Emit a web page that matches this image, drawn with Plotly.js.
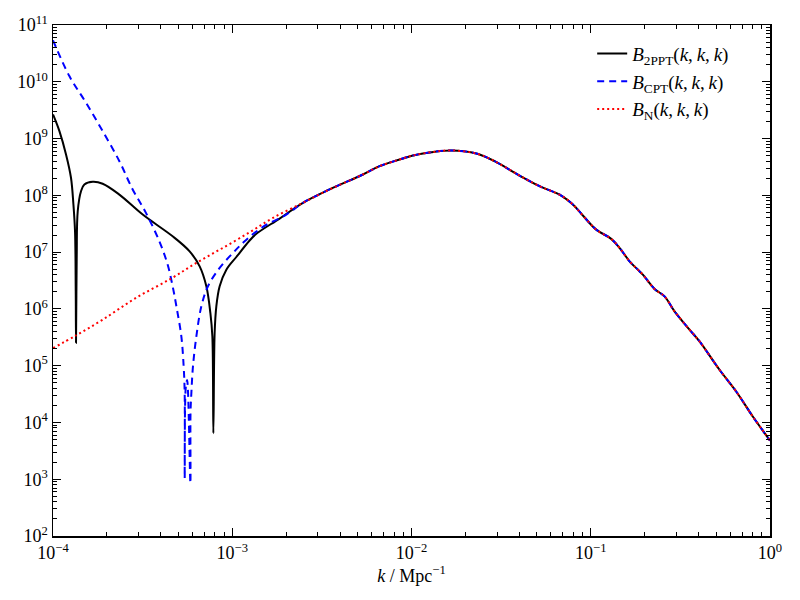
<!DOCTYPE html>
<html>
<head>
<meta charset="utf-8">
<script src="https://cdn.plot.ly/plotly-3.0.1.min.js"></script>
<style>
  body { margin: 0; background: #fff; }
  #graph1 { width: 800px; height: 600px; }
</style>
</head>
<body>
<div id="graph1"></div>
<script>
// B_2PPT, low-k part (before it merges with the others)
var kPPT = [1.0e-4, 1.086e-4, 1.182e-4, 1.26e-4, 1.30e-4, 1.327e-4, 1.339e-4, 1.344e-4, 1.356e-4, 1.374e-4,
            1.433e-4, 1.496e-4, 1.665e-4, 1.893e-4, 2.346e-4, 3.165e-4, 4.65e-4, 5.785e-4, 6.58e-4, 7.17e-4,
            7.55e-4, 7.745e-4, 7.845e-4, 7.976e-4, 8.15e-4, 8.506e-4, 9.27e-4, 1.054e-3, 1.25e-3, 1.363e-3, 1.838e-3];
var bPPT = [2.66e9, 1.35e9, 5.25e8, 2.04e8, 6.89e7, 2.33e7, 2.04e6, 2.53e5, 8.0e6, 5.25e7,
            1.18e8, 1.55e8, 1.73e8, 1.60e8, 1.03e8, 4.58e7, 1.90e7, 1.03e7, 5.62e6, 2.50e6,
            8.47e5, 3.27e5, 6.47e3, 3.76e5, 1.11e6, 2.50e6, 4.91e6, 8.2e6, 1.6e7, 2.1e7, 3.9e7];

// B_CPT, low-k part
var kCPT = [1.0e-4, 1.234e-4, 1.528e-4, 1.893e-4, 2.346e-4, 2.782e-4, 3.30e-4, 3.92e-4, 4.36e-4, 4.65e-4,
            4.88e-4, 5.20e-4, 5.357e-4, 5.427e-4, 5.43e-4, 5.50e-4, 5.60e-4, 5.84e-4, 5.85e-4, 5.914e-4,
            6.036e-4, 6.306e-4, 6.725e-4, 7.32e-4, 8.506e-4, 1.009e-3, 1.173e-3, 1.483e-3, 2.003e-3];
var bCPT = [5.37e10, 1.26e10, 4.28e9, 1.35e9, 3.99e8, 1.27e8, 4.91e7, 1.55e7, 6.03e6, 2.50e6,
            1.11e6, 3.27e5, 9.68e4, 3.29e4, 1.04e3, 4.0e4, 5.6e4, 8.5e2, 1.46e4, 3.29e4,
            9.68e4, 3.27e5, 1.11e6, 2.50e6, 5.26e6, 9.68e6, 1.55e7, 2.78e7, 4.58e7];

// B_N, low-k part
var kN = [1.0e-4, 1.344e-4, 1.893e-4, 2.903e-4, 4.55e-4, 6.306e-4, 8.87e-4, 1.25e-3, 1.687e-3];
var bN = [2.04e5, 3.41e5, 6.46e5, 1.56e6, 3.41e6, 6.46e6, 1.19e7, 2.23e7, 4.01e7];

// all three agree from here on
var kCommon = [2.48e-3, 3.49e-3, 5.36e-3, 6.64e-3, 8.59e-3, 1.018e-2, 1.289e-2, 1.667e-2, 2.298e-2, 2.907e-2,
               4.006e-2, 5.18e-2, 6.846e-2, 7.95e-2, 9.04e-2, 0.1073, 0.1301, 0.1447, 0.1646, 0.1831,
               0.1953, 0.227, 0.258, 0.2933, 0.3556, 0.4045, 0.5228, 0.6477, 0.8017, 1.0];
var bCommon = [7.38e7, 1.27e8, 2.33e8, 3.26e8, 4.28e8, 5.03e8, 5.75e8, 6.17e8, 5.46e8, 3.99e8,
               2.23e8, 1.45e8, 9.91e7, 6.89e7, 4.41e7, 2.49e7, 1.71e7, 1.19e7, 6.89e6, 4.91e6,
               4.01e6, 2.24e6, 1.66e6, 9.04e5, 4.30e5, 2.67e5, 8.47e4, 3.51e4, 1.27e4, 4.8e3];

var xExp = [-4, -3, -2, -1, 0];
var yExp = [2, 3, 4, 5, 6, 7, 8, 9, 10, 11];

var kkk = "(<i>k</i>,\u2009<i>k</i>,\u2009<i>k</i>)";
var names = ["<i>B</i><sub>2PPT</sub>" + kkk,
             "<i>B</i><sub>CPT</sub>" + kkk,
             "<i>B</i><sub>N</sub>" + kkk];

function powLabels(exps) {
    return exps.map(function (e) {
        return "10<sup>" + (e < 0 ? "\u2212" + (-e) : e) + "</sup>";
    });
}

function majorVals(exps) {
    return exps.map(function (e) { return Math.pow(10, e); });
}

function minorVals(exps) {
    var v = [];
    for (var i = 0; i < exps.length - 1; i++) {
        for (var m = 2; m < 10; m++) {
            v.push(m * Math.pow(10, exps[i]));
        }
    }
    return v;
}

var font = "Liberation Serif, Times New Roman, serif";

var data = [
  {
    x: kPPT.concat(kCommon), y: bPPT.concat(bCommon),
    type: "scatter", mode: "lines", name: names[0], legendgroup: "a",
    line: {color: "#000000", width: 2, shape: "spline", smoothing: 1}
  },
  {
    x: kCPT.concat(kCommon), y: bCPT.concat(bCommon),
    type: "scatter", mode: "lines", name: names[1], legendgroup: "b",
    line: {color: "#0000ff", width: 2, dash: "7px,5px", shape: "spline", smoothing: 1}
  },
  {
    x: kN.concat(kCommon), y: bN.concat(bCommon),
    type: "scatter", mode: "lines", name: names[2], legendgroup: "c",
    line: {color: "#ff0000", width: 2, dash: "2px,3px", shape: "spline", smoothing: 1}
  }
];

var axisBase = {
  type: "log",
  showline: true, linecolor: "#000", linewidth: 1.5,
  mirror: "allticks",
  ticks: "inside", ticklen: 8, tickwidth: 1, tickcolor: "#000",
  tickmode: "array",
  showgrid: false, zeroline: false,
  tickfont: {family: font, size: 18, color: "#000"}
};

var layout = {
  width: 800, height: 600,
  margin: {l: 53, r: 30, t: 25, b: 64},
  paper_bgcolor: "#fff", plot_bgcolor: "#fff",
  font: {family: font, color: "#000"},
  showlegend: true,
  legend: {
    x: 0.752, xanchor: "left", y: 0.981, yanchor: "top",
    bgcolor: "rgba(0,0,0,0)", borderwidth: 0,
    tracegroupgap: 0,
    font: {family: font, size: 19, color: "#000"}
  },
  xaxis: Object.assign({}, axisBase, {
    range: [-4, 0],
    tickvals: majorVals(xExp), ticktext: powLabels(xExp),
    minor: {tickmode: "array", tickvals: minorVals(xExp), ticks: "inside", ticklen: 4, tickcolor: "#000", showgrid: false},
    title: {text: "<i>k</i> / Mpc<sup>\u22121</sup>", font: {family: font, size: 18}, standoff: 4}
  }),
  yaxis: Object.assign({}, axisBase, {
    range: [2, 11],
    tickvals: majorVals(yExp), ticktext: powLabels(yExp),
    minor: {tickmode: "array", tickvals: minorVals(yExp), ticks: "inside", ticklen: 4, tickcolor: "#000", showgrid: false}
  })
};

Plotly.newPlot("graph1", data, layout, {displayModeBar: false, staticPlot: true});
</script>
</body>
</html>
